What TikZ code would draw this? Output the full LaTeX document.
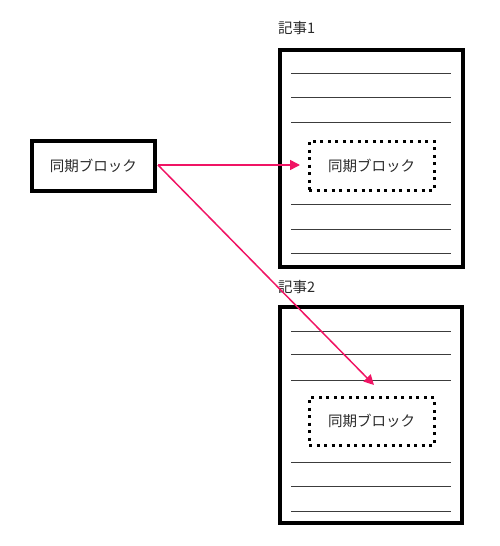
\documentclass[tikz,border=0pt]{standalone}
\usepackage{fontspec}
\setmainfont{Noto Sans CJK JP}
\usetikzlibrary{arrows.meta}
\definecolor{arrowpink}{RGB}{240,20,100}
\definecolor{rulegray}{RGB}{60,60,60}
\tikzset{
  solidbox/.style={draw=black, line width=4pt, minimum width=#1, inner sep=0pt},
  dotbox/.style={draw=black, line width=3pt, dash pattern=on 3pt off 4.5pt, minimum width=125pt, minimum height=49pt, inner sep=0pt, font=\fontsize{14.5pt}{18pt}\selectfont, text=rulegray!70!black},
  boxtext/.style={font=\fontsize{14.5pt}{18pt}\selectfont, text=rulegray!70!black},
  rulelines/.style={draw=rulegray, line width=1pt},
  linkarrow/.style={draw=arrowpink, line width=1.5pt, -{Triangle[length=10pt,width=10pt]}},
  artlabel/.style={anchor=west, inner sep=0pt, font=\fontsize{14.5pt}{18pt}\selectfont, text=rulegray!70!black}
}
\begin{document}
\begin{tikzpicture}[x=1pt,y=-1pt]
\useasboundingbox (0,0) rectangle (500,546);
% left block
\node[solidbox=123.5pt, minimum height=50pt, boxtext] (lb) at (93.25,166) {同期ブロック};
% article 1
\node[artlabel] (l1) at (278,28) {記事1};
\node[solidbox=183pt, minimum height=217.5pt] (a1) at (371.5,158.25) {};
\foreach \yy in {73.5,97.5,122.5,204,229,253.5}
  \draw[rulelines] (291,\yy) -- (451,\yy);
\node[dotbox] (d1) at (371.5,165.5) {同期ブロック};
% article 2
\node[artlabel] (l2) at (278,287) {記事2};
\node[solidbox=182pt, minimum height=216pt] (a2) at (371,415) {};
\foreach \yy in {331,354.5,380,462,486,511}
  \draw[rulelines] (291,\yy) -- (451,\yy);
\node[dotbox, minimum height=47.5pt] (d2) at (371.5,421.25) {同期ブロック};
% connectors
\coordinate (s) at (158,165);
\coordinate (t1) at (300,165);
\coordinate (t2) at (374,385);
\draw[linkarrow] (s) -- (t1);
\draw[linkarrow] (s) -- (t2);
\end{tikzpicture}
\end{document}
